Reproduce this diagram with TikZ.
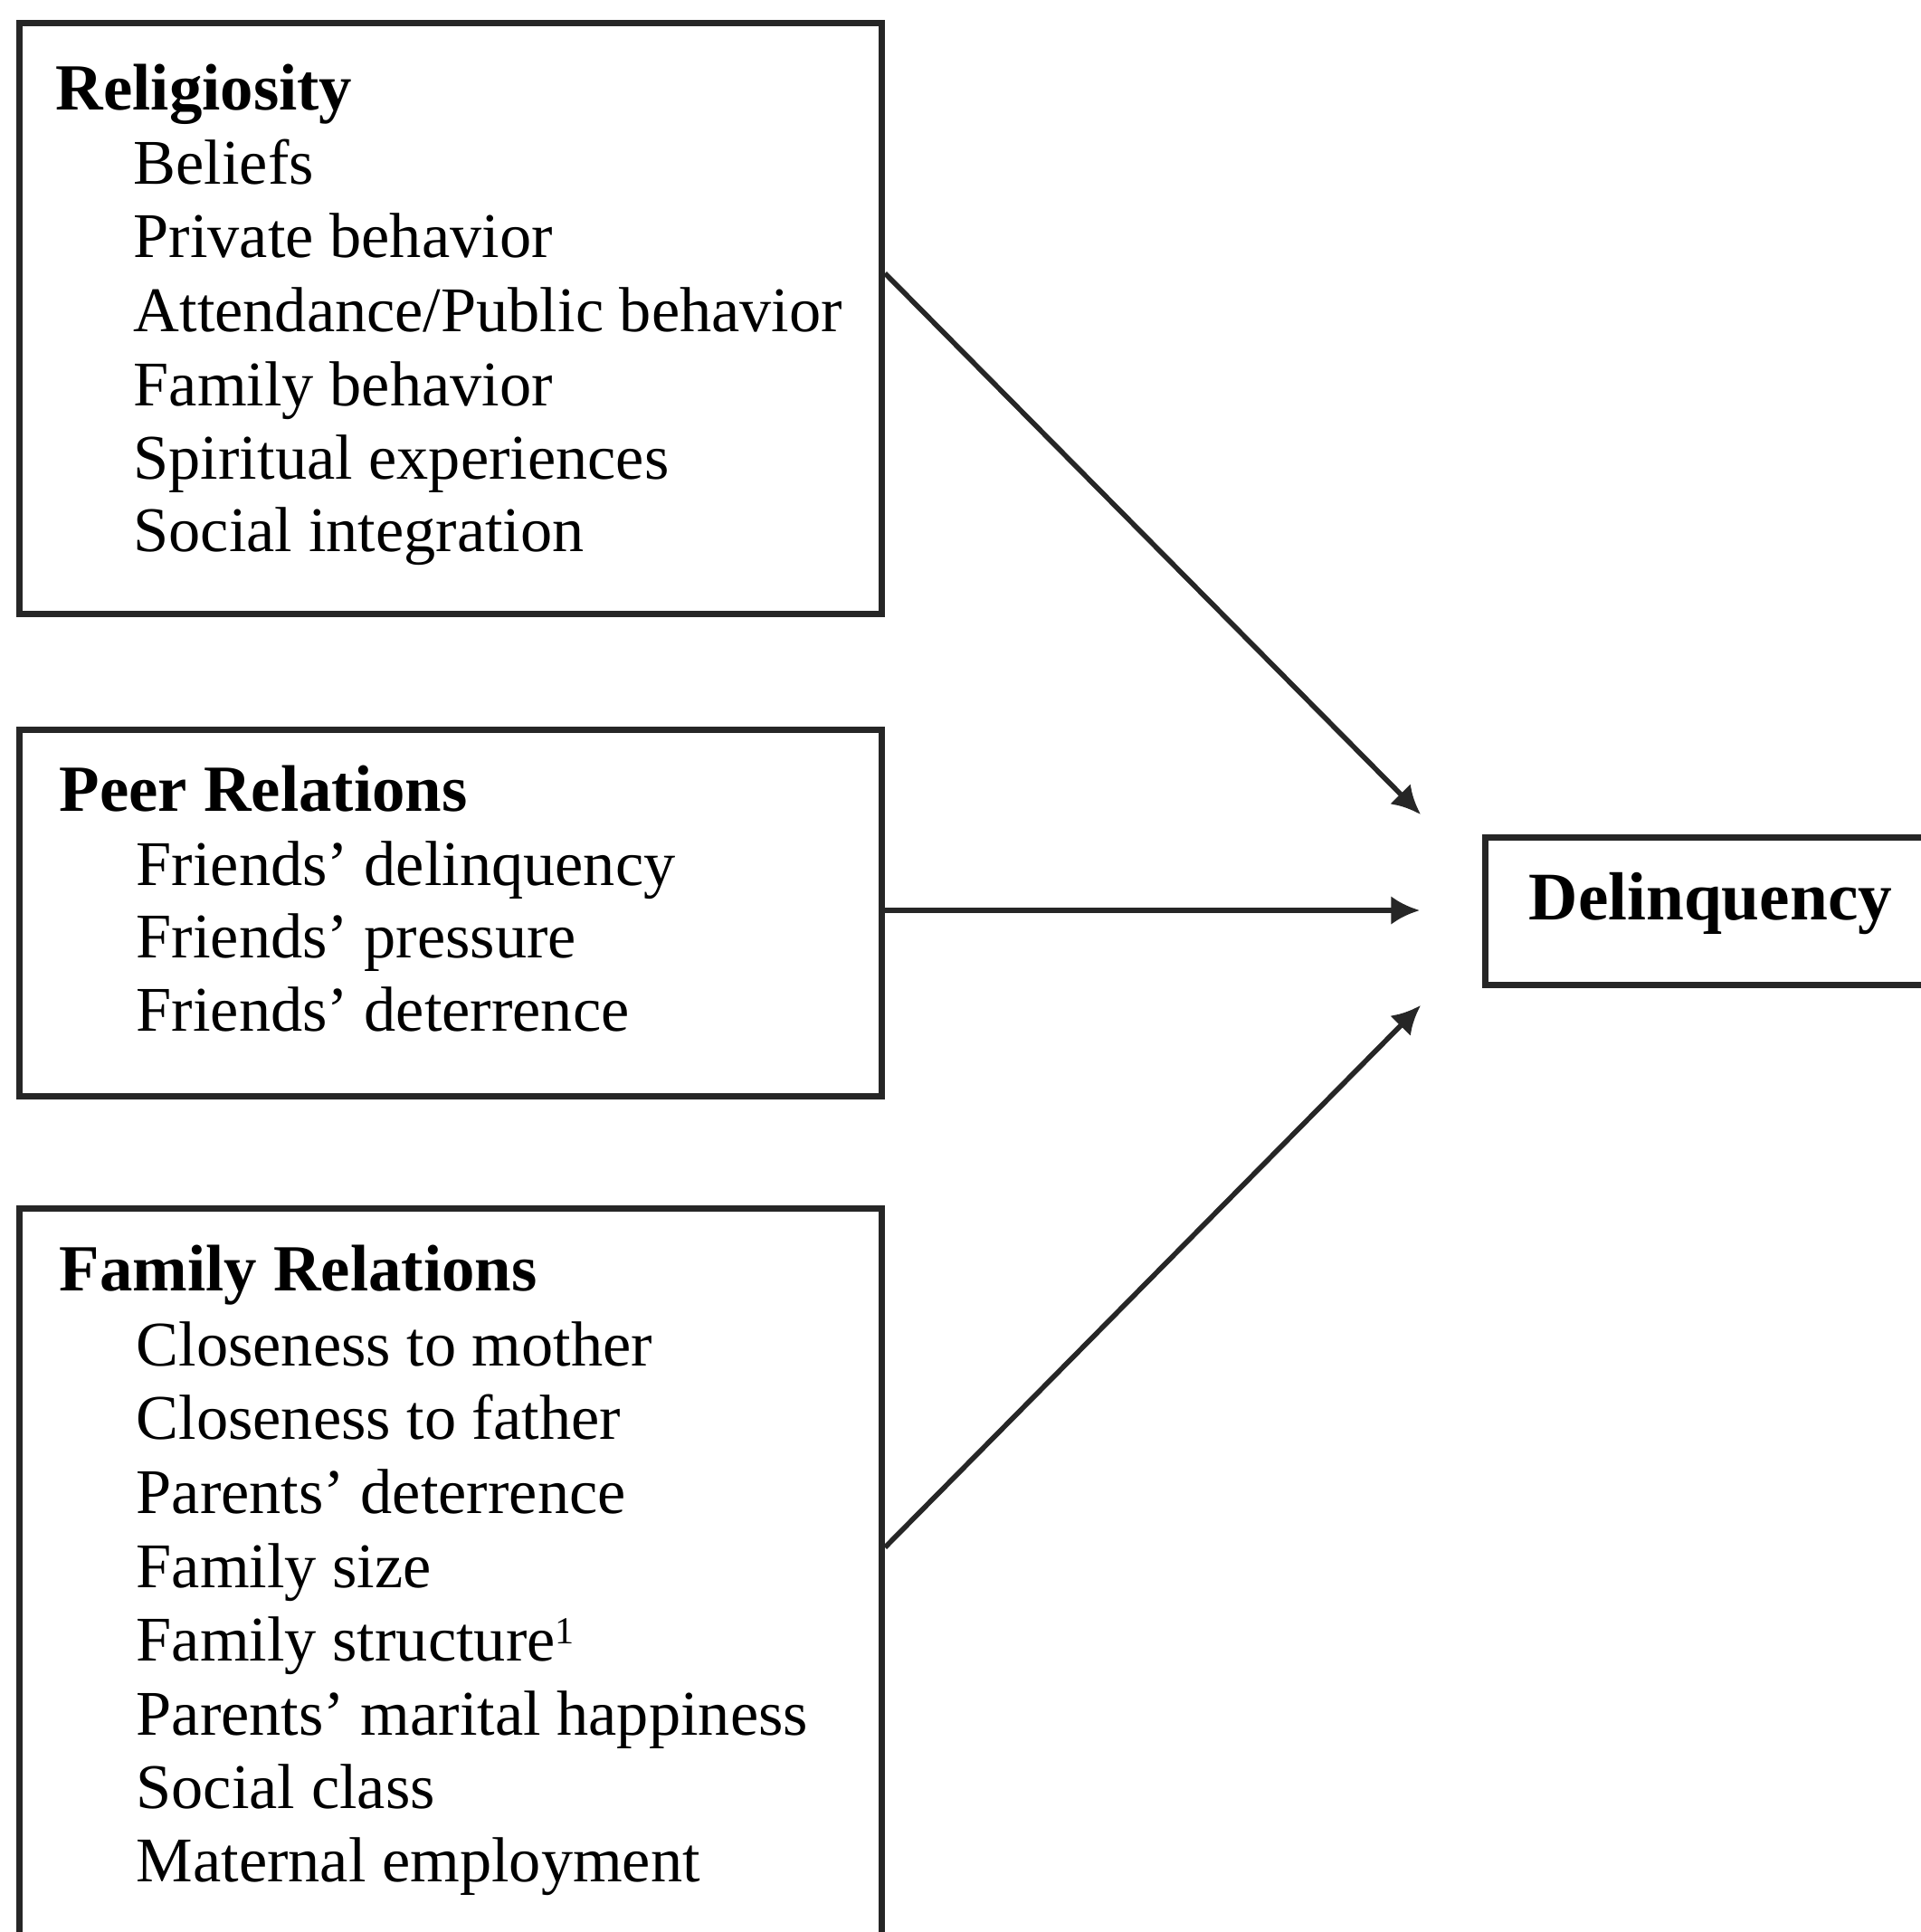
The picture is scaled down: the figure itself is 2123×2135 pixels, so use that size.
\documentclass[tikz,border=0pt]{standalone}
\usepackage{fontspec}
\setmainfont{Liberation Serif}
\usetikzlibrary{arrows.meta,calc}
\begin{document}
\begin{tikzpicture}[x=0.01cm,y=-0.01cm,
  box/.style={draw=black!85,line width=2pt,rectangle,inner sep=0pt,anchor=north west},
  head/.style={anchor=base west,inner sep=0pt,font=\fontsize{20.7pt}{23pt}\selectfont\bfseries},
  item/.style={anchor=base west,inner sep=0pt,font=\fontsize{20pt}{23pt}\selectfont},
  arr/.style={draw=black!85,line width=1.6pt,-{Latex[length=9pt,width=9pt]}}]
\clip (0,0) rectangle (2123,2135);
\fill[white] (0,0) rectangle (2123,2135);
% boxes
\node[box,minimum width=953*0.01cm,minimum height=653*0.01cm] (rel) at (18,22) {};
\node[box,minimum width=953*0.01cm,minimum height=405*0.01cm] (peer) at (18,803) {};
\node[box,minimum width=953*0.01cm,minimum height=850*0.01cm] (fam) at (18,1332) {};
\node[box,minimum width=520*0.01cm,minimum height=163*0.01cm] (del) at (1638,922) {};
% religiosity
\node[head] (relh) at (61,121) {Religiosity};
\node[item] (rel1) at (147,203) {Beliefs};
\node[item] (rel2) at (147,284) {Private behavior};
\node[item] (rel3) at (147,366) {Attendance/Public behavior};
\node[item] (rel4) at (147,448) {Family behavior};
\node[item] (rel5) at (147,529) {Spiritual experiences};
\node[item] (rel6) at (147,609) {Social integration};
% peer
\node[head] (peerh) at (65,896) {Peer Relations};
\node[item] (peer1) at (150,978) {Friends’ delinquency};
\node[item] (peer2) at (150,1058) {Friends’ pressure};
\node[item] (peer3) at (150,1139) {Friends’ deterrence};
% family
\node[head] (famh) at (65,1426) {Family Relations};
\node[item] (fam1) at (150,1509) {Closeness to mother};
\node[item] (fam2) at (150,1590) {Closeness to father};
\node[item] (fam3) at (150,1672) {Parents’ deterrence};
\node[item] (fam4) at (150,1754) {Family size};
\node[item] (fam5) at (150,1835) {Family structure{\fontsize{12pt}{12pt}\selectfont\raisebox{0.45em}{1}}};
\node[item] (fam6) at (150,1917) {Parents’ marital happiness};
\node[item] (fam7) at (150,1998) {Social class};
\node[item] (fam8) at (150,2079) {Maternal employment};
% delinquency
\node[head,font=\fontsize{21.4pt}{23pt}\selectfont\bfseries] (delt) at (1689,1016) {Delinquency};
% arrow ends
\coordinate (t1) at (1570,900);
\coordinate (t2) at (1569,1006);
\coordinate (t3) at (1570,1111);
\draw[arr] ($(rel.north east)+(0,280)$) -- (t1);
\draw[arr] ($(peer.north east)+(0,203)$) -- (t2);
\draw[arr] ($(fam.north east)+(0,378)$) -- (t3);
\end{tikzpicture}
\end{document}
